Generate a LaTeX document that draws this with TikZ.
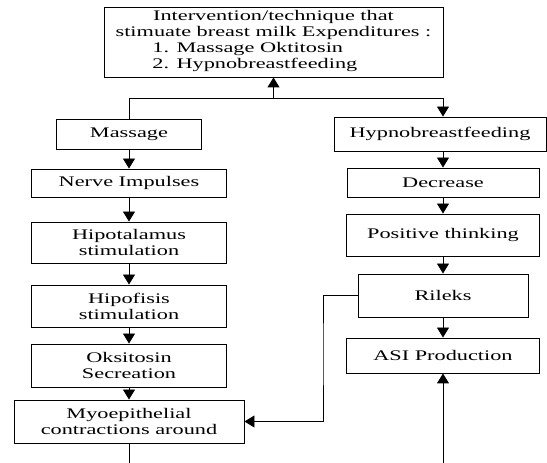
\documentclass[tikz,border=0pt]{standalone}
\usepackage{fontspec}
\setmainfont{Liberation Serif}[FakeStretch=1.52]
\usepackage{tikz}
\usetikzlibrary{arrows.meta,positioning,calc}

\tikzset{
	kotak/.style={draw, line width=0.7pt, inner sep=1pt, align=center,
		font=\fontsize{11}{12}\selectfont},
	panah/.style={-{Triangle[width=9pt,length=7.5pt]}},
}

\begin{document}
\begin{tikzpicture}[x=0.75pt, y=-0.75pt, line width=0.7pt]
		\def\u{0.75pt}
		\def\xTop{273.5}
		\def\xKiri{129}
		\def\xKanan{443}
		\def\yCabang{98}
		\def\yBawah{463}
		\def\xBelok{323}

\useasboundingbox (0,0) rectangle (547,463);

% kotak atas
\node[kotak, minimum width=339*\u, minimum height=70*\u] (atas) at (\xTop,42)
	{Intervention/technique that\\ stimuate breast milk Expenditures :\\
	\begin{tabular}[t]{@{}l@{}}1. Massage Oktitosin\\2. Hypnobreastfeeding\end{tabular}\hspace*{28pt}};

% kolom kiri
\node[kotak, minimum width=145*\u, minimum height=30*\u] (massage) at (\xKiri,134) {Massage};
\node[kotak, minimum width=195*\u, minimum height=28*\u] (nerve) at (\xKiri,183) {Nerve Impulses};
\node[kotak, minimum width=195*\u, minimum height=41*\u] (hipotalamus) at (\xKiri,242.5) {Hipotalamus\\ stimulation};
\node[kotak, minimum width=195*\u, minimum height=42*\u] (hipofisis) at (\xKiri,306) {Hipofisis\\ stimulation};
\node[kotak, minimum width=195*\u, minimum height=43*\u] (oksitosin) at (\xKiri,365.5) {Oksitosin\\ Secreation};
\node[kotak, minimum width=230*\u, minimum height=43*\u] (myo) at (\xKiri,421.5) {Myoepithelial\\ contractions around};

% kolom kanan
\node[kotak, minimum width=212*\u, minimum height=34*\u] (hypno) at (440,134) {Hypnobreastfeeding};
\node[kotak, minimum width=192*\u, minimum height=29*\u] (decrease) at (\xKanan,182.5) {Decrease};
\node[kotak, minimum width=193*\u, minimum height=42*\u] (positive) at (\xKanan,235) {Positive thinking};
\node[kotak, minimum width=170*\u, minimum height=43*\u] (rileks) at (\xKanan,295.5) {Rileks};
\node[kotak, minimum width=193*\u, minimum height=35*\u] (asi) at (\xKanan,355.5) {ASI Production};

\coordinate (cabang) at (\xTop,\yCabang);
\coordinate (belok) at (\xKanan,\yCabang);
\coordinate (bawahKiri) at (\xKiri,\yBawah);
\coordinate (bawahKanan) at (\xKanan,\yBawah);

\draw[panah] (cabang) -- (atas.south);
\draw (massage.north) |- (cabang);
\draw[panah] (cabang) -- (belok) -- (hypno.north -| belok);

\draw[panah] (massage) -- (nerve);
\draw[panah] (nerve) -- (hipotalamus);
\draw[panah] (hipotalamus) -- (hipofisis);
\draw[panah] (hipofisis) -- (oksitosin);
\draw[panah] (oksitosin) -- (myo);
\draw (myo.south) -- (bawahKiri);

\draw[panah] (hypno.south -| belok) -- (decrease);
\draw[panah] (decrease) -- (positive);
\draw[panah] (positive) -- (rileks);
\draw[panah] (rileks) -- (asi);
\draw[panah] (bawahKanan) -- (asi.south);
\draw[panah] (rileks.west) -| (\xBelok,350) |- (myo.east);

	\end{tikzpicture}
\end{document}
